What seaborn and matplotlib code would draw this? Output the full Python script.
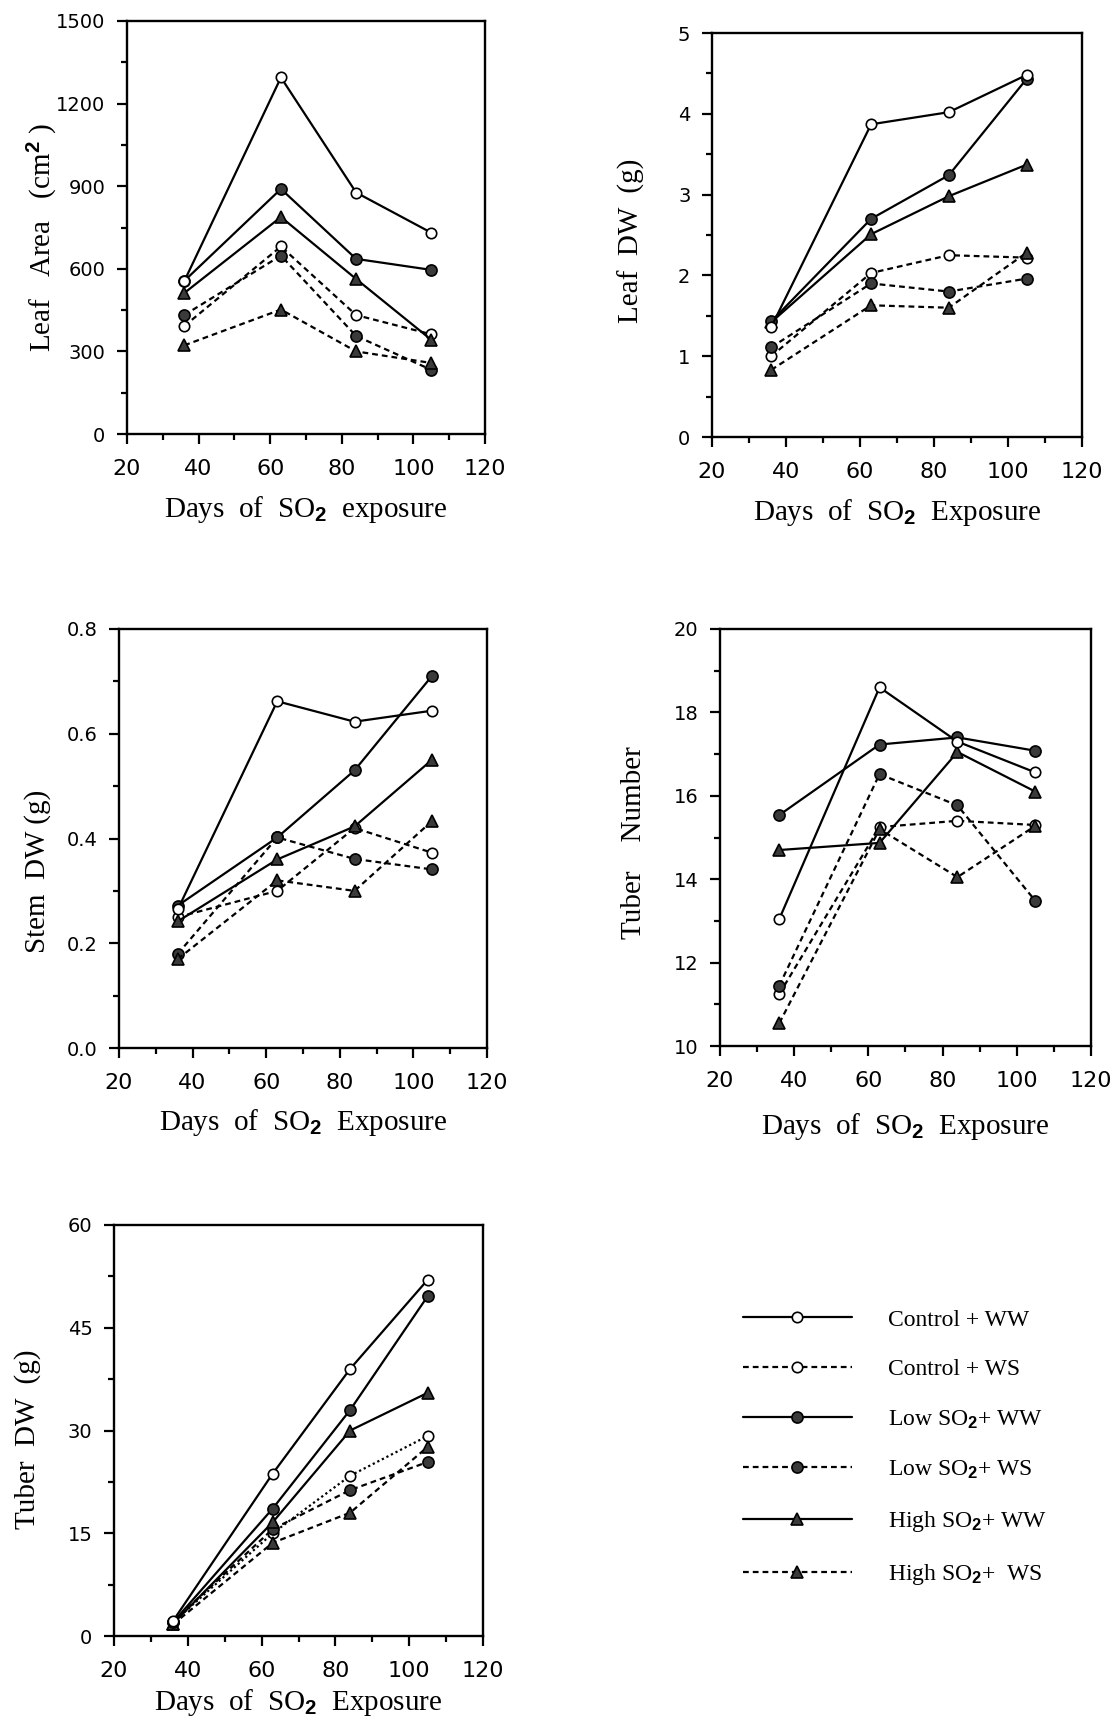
import matplotlib
matplotlib.use("Agg")
import matplotlib.pyplot as plt
from matplotlib.lines import Line2D
from matplotlib.ticker import MultipleLocator, FormatStrFormatter
import seaborn as sns
import pandas as pd

# ---------------- data ----------------
days = [36, 63, 84, 105]
series_names = ["Control + WW", "Control + WS", "Low SO2 + WW",
                "Low SO2 + WS", "High SO2 + WW", "High SO2 + WS"]

leaf_area = {
    "Control + WW": [555, 1295, 877, 731],
    "Control + WS": [392, 681, 432, 362],
    "Low SO2 + WW": [556, 890, 636, 596],
    "Low SO2 + WS": [432, 648, 356, 233],
    "High SO2 + WW": [512, 788, 563, 342],
    "High SO2 + WS": [322, 452, 300, 258],
}
leaf_dw = {
    "Control + WW": [1.36, 3.87, 4.02, 4.48],
    "Control + WS": [1.00, 2.03, 2.25, 2.22],
    "Low SO2 + WW": [1.43, 2.70, 3.24, 4.43],
    "Low SO2 + WS": [1.11, 1.90, 1.80, 1.96],
    "High SO2 + WW": [1.42, 2.51, 2.98, 3.37],
    "High SO2 + WS": [0.83, 1.63, 1.60, 2.28],
}
stem_dw = {
    "Control + WW": [0.265, 0.662, 0.623, 0.644],
    "Control + WS": [0.250, 0.300, 0.420, 0.373],
    "Low SO2 + WW": [0.272, 0.402, 0.530, 0.710],
    "Low SO2 + WS": [0.180, 0.402, 0.361, 0.341],
    "High SO2 + WW": [0.242, 0.360, 0.423, 0.550],
    "High SO2 + WS": [0.170, 0.320, 0.300, 0.433],
}
tuber_number = {
    "Control + WW": [13.05, 18.60, 17.30, 16.56],
    "Control + WS": [11.25, 15.25, 15.40, 15.30],
    "Low SO2 + WW": [15.54, 17.23, 17.40, 17.08],
    "Low SO2 + WS": [11.45, 16.52, 15.77, 13.48],
    "High SO2 + WW": [14.70, 14.87, 17.05, 16.10],
    "High SO2 + WS": [10.55, 15.20, 14.05, 15.28],
}
tuber_dw = {
    "Control + WW": [2.2, 23.7, 39.0, 52.0],
    "Control + WS": [2.0, 15.0, 23.4, 29.2],
    "Low SO2 + WW": [2.0, 18.6, 33.0, 49.6],
    "Low SO2 + WS": [2.1, 15.6, 21.3, 25.4],
    "High SO2 + WW": [1.8, 16.6, 30.0, 35.5],
    "High SO2 + WS": [1.7, 13.6, 18.0, 27.6],
}

legend_labels = ["Control + WW", "Control + WS",
                 "Low SO$_\\mathbf{2}$+ WW", "Low SO$_\\mathbf{2}$+ WS",
                 "High SO$_\\mathbf{2}$+ WW", "High SO$_\\mathbf{2}$+  WS"]

# ---------------- style ----------------
sns.set_theme(style="ticks")
plt.rcParams["font.family"] = ["DejaVu Sans"]
plt.rcParams["mathtext.fontset"] = "custom"
plt.rcParams["mathtext.rm"] = "Liberation Serif"
plt.rcParams["mathtext.it"] = "Liberation Serif:italic"
plt.rcParams["mathtext.bf"] = "Liberation Sans:bold"

FILL = "#3a3a3a"
DASH = (0, (2.6, 1.8))
DOT = (0, (1.0, 1.3))
styles = {
    "Control + WW": dict(ls="-", marker="o", mfc="white", ms=7.5),
    "Control + WS": dict(ls=DASH, marker="o", mfc="white", ms=7.5),
    "Low SO2 + WW": dict(ls="-", marker="o", mfc=FILL, ms=8.0),
    "Low SO2 + WS": dict(ls=DASH, marker="o", mfc=FILL, ms=8.0),
    "High SO2 + WW": dict(ls="-", marker="^", mfc=FILL, ms=8.5),
    "High SO2 + WS": dict(ls=DASH, marker="^", mfc=FILL, ms=8.5),
}

W, H = 1113, 1728
fig = plt.figure(figsize=(W / 100, H / 100), dpi=100)

serif = "Liberation Serif"
XLAB = "Days  of  SO$_\\mathbf{2}$  Exposure"


def make_ax(L, R, T, B):
    return fig.add_axes([L / W, 1 - B / H, (R - L) / W, (B - T) / H])


panels = [
    # data, box(L,R,T,B), ylim, major, minor, fmt, ylabel, xlabel,
    # ylabel centre (axes coords), xlabel centre y, linestyle overrides
    (leaf_area, (127, 485, 21, 434), (0, 1500), 300, 150, "%d",
     "Leaf   Area   (cm$^{\\mathbf{2}}$ )", "Days  of  SO$_\\mathbf{2}$  exposure",
     (-0.236, 0.475), -0.184, {}),
    (leaf_dw, (712, 1082, 33, 437), (0, 5), 1, 0.5, "%d",
     "Leaf  DW  (g)", XLAB, (-0.218, 0.486), -0.186, {}),
    (stem_dw, (119, 487, 629, 1048), (0, 0.8), 0.2, 0.1, "%.1f",
     "Stem  DW (g)", XLAB, (-0.221, 0.422), -0.177, {}),
    (tuber_number, (720, 1091, 629, 1046), (10, 20), 2, 1, "%d",
     "Tuber    Number", XLAB, (-0.231, 0.487), -0.192, {}),
    (tuber_dw, (114, 483, 1225, 1636), (0, 60), 15, 7.5, "%d",
     "Tuber  DW  (g)", XLAB, (-0.233, 0.479), -0.162,
     {"Control + WS": DOT}),
]

order = ["Control + WS", "Low SO2 + WS", "High SO2 + WS",
         "High SO2 + WW", "Low SO2 + WW", "Control + WW"]

for (data, box, ylim, major, minor, fmt, ylab, xlab, ylc, xly, override) in panels:
    ax = make_ax(*box)
    for name in order:
        st = styles[name]
        ls = override.get(name, st["ls"])
        df = pd.DataFrame({"day": days, "value": data[name]})
        sns.lineplot(data=df, x="day", y="value", ax=ax, color="black",
                     linewidth=1.6, linestyle=ls, marker=st["marker"],
                     markersize=st["ms"], markerfacecolor=st["mfc"],
                     markeredgecolor="black", markeredgewidth=1.2,
                     errorbar=None, legend=False, zorder=3)
    ax.set_xlim(20, 120)
    ax.set_ylim(*ylim)
    ax.xaxis.set_major_locator(MultipleLocator(20))
    ax.xaxis.set_minor_locator(MultipleLocator(10))
    ax.yaxis.set_major_locator(MultipleLocator(major))
    ax.yaxis.set_minor_locator(MultipleLocator(minor))
    ax.yaxis.set_major_formatter(FormatStrFormatter(fmt))
    for sp in ax.spines.values():
        sp.set_visible(True)
        sp.set_linewidth(1.7)
        sp.set_color("black")
    ax.tick_params(axis="both", which="major", direction="out", length=7,
                   width=1.6, color="black", labelcolor="black")
    ax.tick_params(axis="x", which="major", pad=11, labelsize=16)
    ax.tick_params(axis="y", which="major", pad=8.5, labelsize=14)
    ax.tick_params(axis="both", which="minor", direction="out", length=4,
                   width=1.6, color="black")
    ax.set_facecolor("white")
    ax.grid(False)
    ax.set_ylabel(ylab, fontsize=21, family=serif, color="black")
    ax.set_xlabel(xlab, fontsize=21, family=serif, color="black")
    ax.yaxis.label.set_verticalalignment("center")
    ax.xaxis.label.set_verticalalignment("center")
    ax.yaxis.set_label_coords(*ylc)
    ax.xaxis.set_label_coords(0.5, xly)

# ---------------- legend ----------------
handles = []
for name in series_names:
    st = styles[name]
    handles.append(Line2D([0], [0], color="black", linewidth=1.6,
                          linestyle=st["ls"], marker=st["marker"],
                          markersize=st["ms"], markerfacecolor=st["mfc"],
                          markeredgecolor="black", markeredgewidth=1.2))
leg = fig.legend(handles, legend_labels, loc="upper left",
                 bbox_to_anchor=(743 / W, 1 - 1309 / H),
                 bbox_transform=fig.transFigure, frameon=False,
                 borderpad=0, borderaxespad=0, handlelength=4.6,
                 handletextpad=1.55, labelspacing=1.19, numpoints=1,
                 prop={"family": serif, "size": 17})
for t in leg.get_texts():
    t.set_color("black")

fig.savefig("out.png", dpi=100, facecolor="white")
